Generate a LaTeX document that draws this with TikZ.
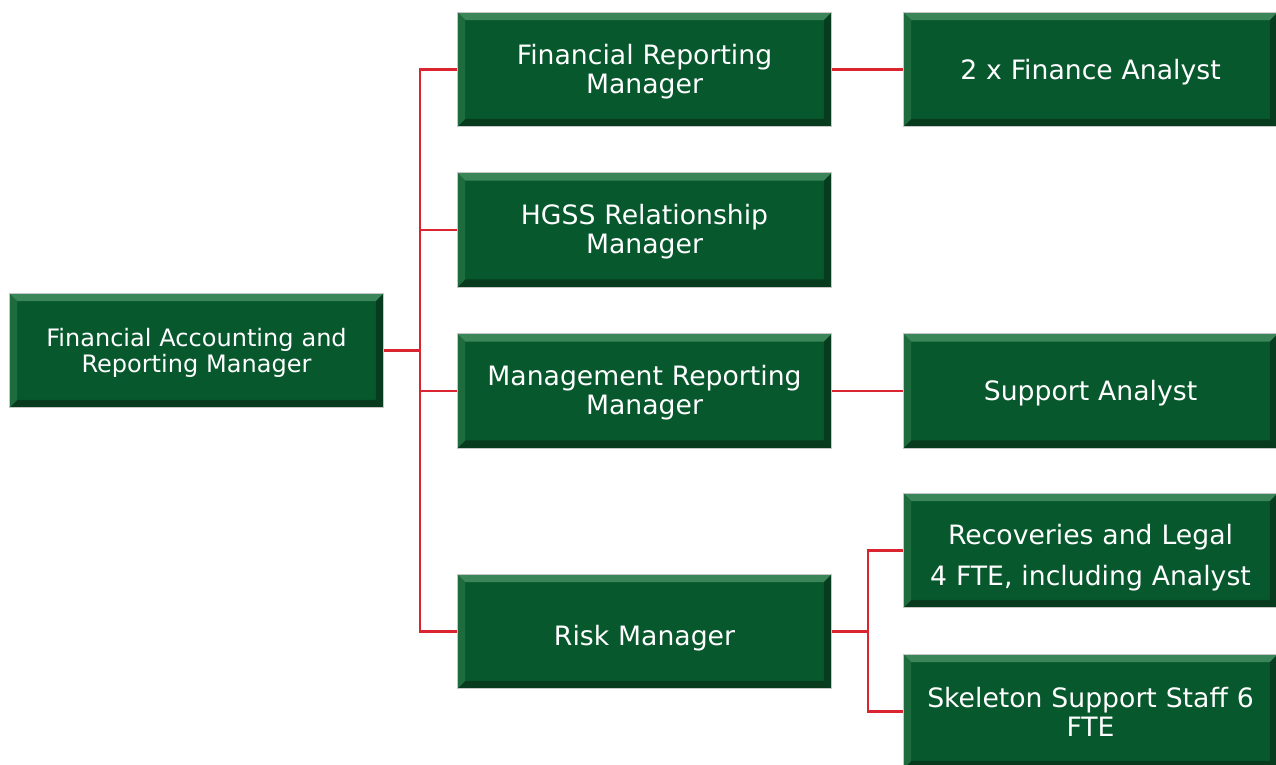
\documentclass[tikz,border=0pt]{standalone}
\usepackage{fontspec}
\setmainfont{DejaVu Sans}
\definecolor{boxgreen}{RGB}{8,88,46}
\definecolor{bevtop}{RGB}{58,134,88}
\definecolor{bevleft}{RGB}{30,108,62}
\definecolor{bevright}{RGB}{8,60,32}
\definecolor{bevbot}{RGB}{8,58,30}
\definecolor{linkred}{RGB}{218,37,48}
\tikzset{
  orgbox/.style={minimum width=281pt, minimum height=86pt, inner sep=0pt,
    text width=275pt, align=center, text=white,
    font=\fontsize{20}{21.75}\selectfont,
    fill=boxgreen, draw=black!22, line width=0.8pt,
    path picture={
      \fill[bevtop] (path picture bounding box.north west) -- (path picture bounding box.north east)
        -- ([xshift=-6pt,yshift=-6pt]path picture bounding box.north east)
        -- ([xshift=6pt,yshift=-6pt]path picture bounding box.north west) -- cycle;
      \fill[bevbot] (path picture bounding box.south west) -- (path picture bounding box.south east)
        -- ([xshift=-6pt,yshift=6pt]path picture bounding box.south east)
        -- ([xshift=6pt,yshift=6pt]path picture bounding box.south west) -- cycle;
      \fill[bevleft] (path picture bounding box.north west) -- (path picture bounding box.south west)
        -- ([xshift=6pt,yshift=6pt]path picture bounding box.south west)
        -- ([xshift=6pt,yshift=-6pt]path picture bounding box.north west) -- cycle;
      \fill[bevright] (path picture bounding box.north east) -- (path picture bounding box.south east)
        -- ([xshift=-6pt,yshift=6pt]path picture bounding box.south east)
        -- ([xshift=-6pt,yshift=-6pt]path picture bounding box.north east) -- cycle;
    }},
  link/.style={draw=linkred, line width=1.7pt}
}
\begin{document}
\begin{tikzpicture}[x=0.75pt,y=-0.75pt]
\useasboundingbox (0,0) rectangle (1276,764);
\node[orgbox, text height=16.7pt, font=\fontsize{18}{19.5}\selectfont] (root) at (196.5,350.5) {Financial Accounting and\\Reporting Manager};
\node[orgbox, text height=18.2pt] (frm) at (644.5,69.5) {Financial Reporting\\Manager};
\node[orgbox, text height=18.2pt] (hgss) at (644.5,230) {HGSS Relationship\\Manager};
\node[orgbox, text height=18.2pt] (mrm) at (644.5,391) {Management Reporting\\Manager};
\node[orgbox, text height=25.7pt] (risk) at (644.5,631.5) {Risk Manager};
\node[orgbox, text height=19.7pt] (fa) at (1090.5,69.5) {2 x Finance Analyst};
\node[orgbox, text height=18.2pt] (sa) at (1090.5,391) {Support Analyst};
\node[orgbox, text height=25.7pt] (rec) at (1090.5,550.5) {Recoveries and Legal\\[9pt]4 FTE, including Analyst};
\node[orgbox] (skel) at (1090.5,711.5) {Skeleton Support Staff 6\\FTE};
\coordinate (j1) at (420,350.5);
\coordinate (j2) at (868,631.5);
\draw[link] (root.east) -- (j1);
\draw[link] (j1) |- (frm.west);
\draw[link] (j1) |- (hgss.west);
\draw[link] (j1) |- (mrm.west);
\draw[link] (j1) |- (risk.west);
\draw[link] (frm.east) -- (fa.west);
\draw[link] (mrm.east) -- (sa.west);
\draw[link] (risk.east) -- (j2);
\draw[link] (j2) |- (rec.west);
\draw[link] (j2) |- (skel.west);
\end{tikzpicture}
\end{document}
